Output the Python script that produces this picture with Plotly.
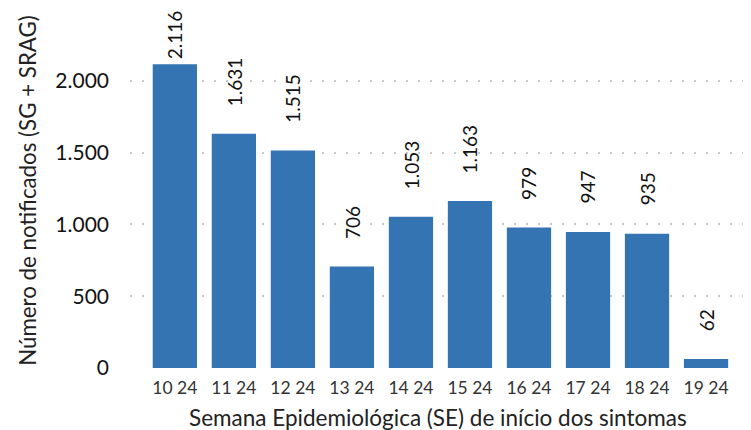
import plotly.graph_objects as go

categories = ["10 24", "11 24", "12 24", "13 24", "14 24", "15 24", "16 24", "17 24", "18 24", "19 24"]
values = [2116, 1631, 1515, 706, 1053, 1163, 979, 947, 935, 62]
y_ticks = [0, 500, 1000, 1500, 2000]
y_tick_labels = ["0", "500", "1.000", "1.500", "2.000"]

def fmt(v):
    return f"{v:,}".replace(",", ".")

FONT = "Lato"
Y_MAX = 2500
PLOT_H = 359
LABEL_LEN = 52
x_idx = list(range(len(categories)))

fig = go.Figure(go.Bar(
    x=x_idx,
    y=values,
    width=0.75,
    marker=dict(color="#3474B2", line=dict(width=0)),
    hoverinfo="x+y",
))

# data labels: ~26px above bar, clamped so the label stays inside the figure
annotations = []
for xi, v in zip(x_idx, values):
    top_px = PLOT_H * v / Y_MAX
    shift = min(26, PLOT_H - top_px - LABEL_LEN)
    annotations.append(dict(
        x=xi, y=v, xref="x", yref="y", text=fmt(v), textangle=-90,
        showarrow=False, xanchor="center", yanchor="bottom", yshift=shift,
        font=dict(family=FONT, size=19, color="#111111"),
    ))

annotations.append(dict(
    x=-0.166, y=0.496, xref="paper", yref="paper",
    text="Número de notificados (SG + SRAG)", textangle=-90, showarrow=False,
    xanchor="center", yanchor="middle",
    font=dict(family=FONT, size=22.3, color="#222222"),
))
annotations.append(dict(
    x=0.5, y=-0.137, xref="paper", yref="paper",
    text="Semana Epidemiológica (SE) de início dos sintomas", showarrow=False,
    xanchor="center", yanchor="middle",
    font=dict(family=FONT, size=22.5, color="#222222"),
))

# page body has an 8px margin: lay out so the plot lands at window x 130-745, y 9-368
fig.update_layout(
    width=751, height=430,
    margin=dict(l=122, r=14, t=1, b=70, autoexpand=False),
    paper_bgcolor="white", plot_bgcolor="white",
    showlegend=False,
    annotations=annotations,
)
fig.update_xaxes(
    tickmode="array",
    tickvals=x_idx,
    ticktext=categories,
    range=[-0.76, 9.66],
    showgrid=False, zeroline=False, showline=False,
    tickfont=dict(family=FONT, size=17.5, color="#333333"),
    ticks="", ticklabelstandoff=7, automargin=False,
)
fig.update_yaxes(
    range=[0, Y_MAX],
    tickmode="array", tickvals=y_ticks, ticktext=y_tick_labels,
    showgrid=True, gridcolor="#C8C8C8", gridwidth=2, griddash="2px,10px",
    zeroline=False, showline=False, ticks="",
    tickfont=dict(family=FONT, size=21, color="#111111"),
    ticklabelstandoff=20, automargin=False,
)

fig.write_html("out.html")
